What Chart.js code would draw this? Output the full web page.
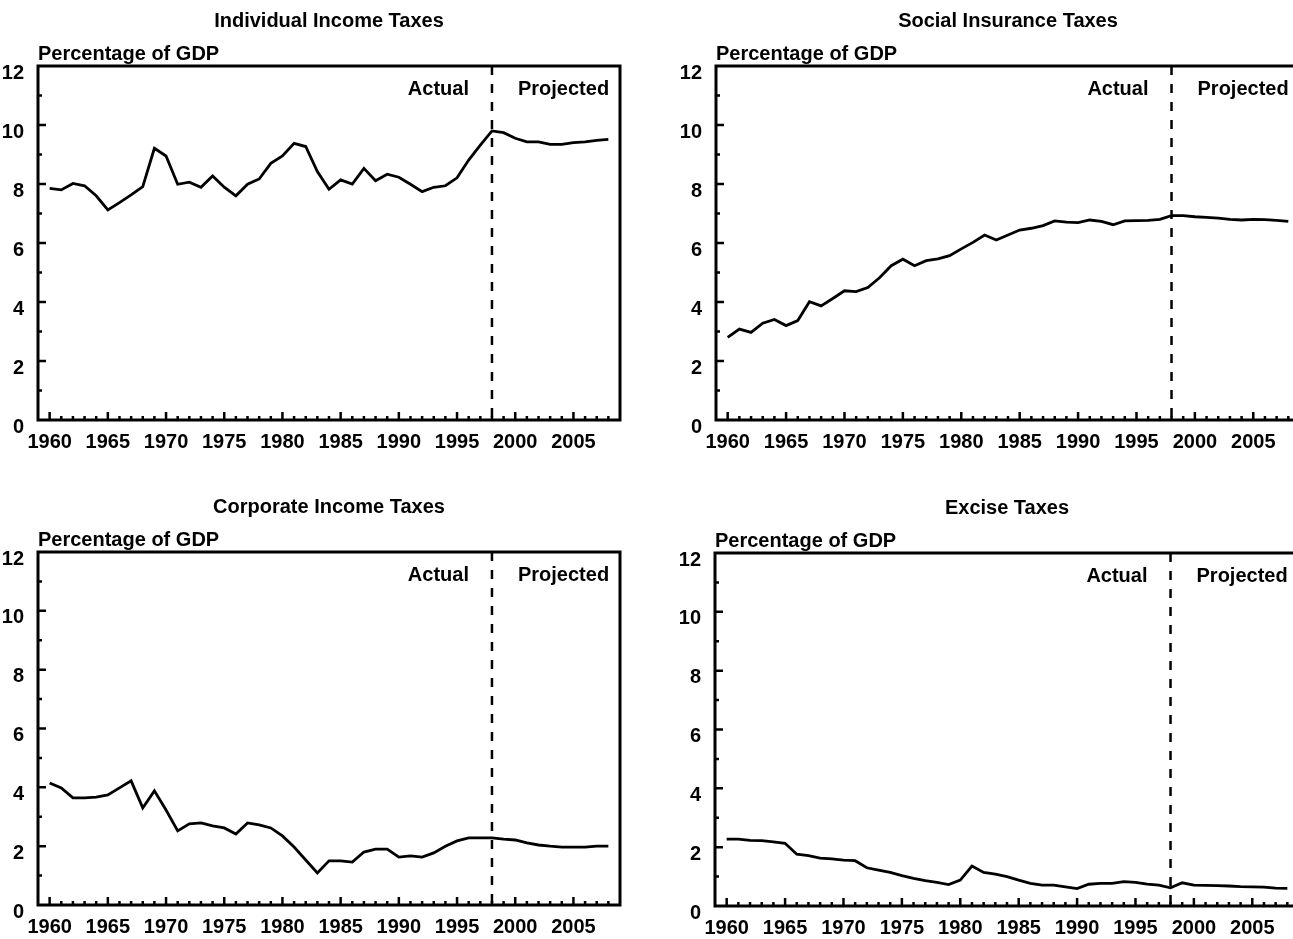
<!DOCTYPE html>
<html>
<head>
<meta charset="utf-8">
<script src="https://cdn.jsdelivr.net/npm/chart.js@4.4.1/dist/chart.umd.min.js"></script>
<style>
  html, body { margin: 0; padding: 0; background: #fff; overflow: hidden; }
  #wrap { position: relative; width: 1293px; height: 939px; overflow: hidden; }
  canvas { position: absolute; }
</style>
</head>
<body>
<div id="wrap">
  <canvas id="c1" width="630" height="460" style="left:0px;top:0px"></canvas>
  <canvas id="c2" width="632" height="460" style="left:678px;top:0px"></canvas>
  <canvas id="c3" width="630" height="459" style="left:0px;top:486px"></canvas>
  <canvas id="c4" width="632" height="459" style="left:677px;top:487px"></canvas>
</div>
<script>
// Data
const years = [1960, 1961, 1962, 1963, 1964, 1965, 1966, 1967, 1968, 1969,
               1970, 1971, 1972, 1973, 1974, 1975, 1976, 1977, 1978, 1979,
               1980, 1981, 1982, 1983, 1984, 1985, 1986, 1987, 1988, 1989,
               1990, 1991, 1992, 1993, 1994, 1995, 1996, 1997, 1998, 1999,
               2000, 2001, 2002, 2003, 2004, 2005, 2006, 2007, 2008];

const individualIncome = [7.85, 7.80, 8.02, 7.94, 7.60, 7.12, 7.37, 7.63, 7.91, 9.21,
                          8.95, 7.99, 8.06, 7.89, 8.27, 7.89, 7.60, 7.99, 8.17, 8.70,
                          8.95, 9.38, 9.27, 8.42, 7.82, 8.14, 8.00, 8.53, 8.11, 8.33,
                          8.23, 7.99, 7.74, 7.89, 7.94, 8.21, 8.81, 9.32, 9.80, 9.74,
                          9.55, 9.43, 9.43, 9.34, 9.34, 9.40, 9.43, 9.48, 9.51];

const socialInsurance = [2.80, 3.08, 2.97, 3.28, 3.41, 3.20, 3.37, 4.01, 3.87, 4.12,
                         4.38, 4.35, 4.49, 4.82, 5.23, 5.45, 5.23, 5.40, 5.46, 5.57,
                         5.80, 6.02, 6.27, 6.10, 6.27, 6.44, 6.50, 6.59, 6.75, 6.71,
                         6.69, 6.78, 6.73, 6.62, 6.75, 6.76, 6.77, 6.80, 6.93, 6.93,
                         6.89, 6.87, 6.84, 6.80, 6.78, 6.80, 6.79, 6.77, 6.73];

const corporateIncome = [4.15, 3.98, 3.64, 3.64, 3.67, 3.74, 3.98, 4.22, 3.30, 3.88,
                         3.23, 2.52, 2.76, 2.79, 2.69, 2.62, 2.41, 2.79, 2.72, 2.62,
                         2.35, 1.97, 1.53, 1.09, 1.50, 1.50, 1.46, 1.80, 1.90, 1.90,
                         1.63, 1.67, 1.63, 1.77, 2.00, 2.18, 2.28, 2.28, 2.28, 2.24,
                         2.21, 2.11, 2.04, 2.00, 1.97, 1.97, 1.97, 2.00, 2.00];

const exciseTaxes = [2.27, 2.27, 2.23, 2.22, 2.18, 2.13, 1.76, 1.71, 1.63, 1.60,
                     1.56, 1.54, 1.30, 1.22, 1.14, 1.03, 0.94, 0.86, 0.80, 0.73,
                     0.88, 1.36, 1.14, 1.08, 1.00, 0.88, 0.77, 0.71, 0.71, 0.65,
                     0.59, 0.74, 0.77, 0.77, 0.83, 0.80, 0.74, 0.71, 0.62, 0.79,
                     0.71, 0.70, 0.69, 0.68, 0.66, 0.65, 0.64, 0.61, 0.60];

const yearTickLabels = [1960, 1965, 1970, 1975, 1980, 1985, 1990, 1995, 2000, 2005];
const splitYear = 1998;

const FONT = '"Liberation Sans", Arial, Helvetica, sans-serif';
Chart.defaults.font.family = FONT;
Chart.defaults.color = '#000';

// titles, frame, inward ticks, Actual/Projected divider
const panelDecor = {
    id: 'panelDecor',
    beforeDatasetsDraw(chart) {
        const { ctx, chartArea: a, scales: { x } } = chart;
        const xs = x.getPixelForValue(splitYear);
        ctx.save();
        ctx.strokeStyle = '#000';
        ctx.lineWidth = 2.5;
        ctx.setLineDash([9, 9]);
        ctx.beginPath();
        ctx.moveTo(xs, a.top);
        ctx.lineTo(xs, a.bottom);
        ctx.stroke();
        ctx.restore();
    },
    afterDraw(chart, args, opts) {
        const { ctx, chartArea: a, scales: { x, y } } = chart;
        ctx.save();
        ctx.strokeStyle = '#000';
        ctx.fillStyle = '#000';

        // frame
        ctx.lineWidth = 3;
        ctx.strokeRect(a.left, a.top, a.right - a.left, a.bottom - a.top);

        // ticks pointing inward
        ctx.lineWidth = 2.5;
        ctx.beginPath();
        years.forEach(yr => {
            const px = x.getPixelForValue(yr);
            const len = yr % 5 === 0 ? 8 : 4;
            ctx.moveTo(px, a.bottom);
            ctx.lineTo(px, a.bottom - len);
        });
        for (let v = 1; v < 12; v++) {
            const py = y.getPixelForValue(v);
            const len = v % 2 === 0 ? 8 : 4;
            ctx.moveTo(a.left, py);
            ctx.lineTo(a.left + len, py);
        }
        ctx.stroke();

        // labels
        const xs = x.getPixelForValue(splitYear);
        ctx.font = 'bold 20px ' + FONT;
        ctx.textBaseline = 'alphabetic';
        ctx.textAlign = 'right';
        ctx.fillText('Actual', xs - 23, a.top + 29);
        ctx.textAlign = 'left';
        ctx.fillText('Projected', xs + 26, a.top + 29);

        ctx.fillText('Percentage of GDP', a.left, a.top - 6);

        ctx.textAlign = 'center';
        ctx.fillText(opts.title, (a.left + a.right) / 2, a.top - 39);
        ctx.restore();
    }
};

function makePanel(canvasId, title, values) {
    const ctx = document.getElementById(canvasId).getContext('2d');
    return new Chart(ctx, {
        type: 'line',
        data: {
            datasets: [{
                data: years.map((yr, i) => ({ x: yr, y: values[i] })),
                borderColor: '#000',
                borderWidth: 2.8,
                pointRadius: 0,
                tension: 0,
                fill: false
            }]
        },
        options: {
            responsive: false,
            animation: false,
            events: [],
            layout: { padding: { top: 66, right: 10, left: 0, bottom: 0 } },
            plugins: {
                legend: { display: false },
                tooltip: { enabled: false },
                title: { display: false },
                panelDecor: { title: title }
            },
            scales: {
                x: {
                    type: 'linear',
                    min: 1959,
                    max: 2009,
                    grid: { display: false },
                    border: { display: false },
                    afterBuildTicks: s => { s.ticks = yearTickLabels.map(v => ({ value: v })); },
                    afterFit: s => { s.height = 40; },
                    ticks: {
                        font: { size: 20, weight: 'bold' },
                        color: '#000',
                        padding: 2,
                        maxRotation: 0,
                        autoSkip: false,
                        callback: v => String(v)
                    }
                },
                y: {
                    min: 0,
                    max: 12,
                    grid: { display: false },
                    border: { display: false },
                    afterFit: s => { s.width = 38; },
                    ticks: {
                        stepSize: 2,
                        font: { size: 20, weight: 'bold' },
                        color: '#000',
                        padding: 6,
                        labelOffset: 7
                    }
                }
            }
        },
        plugins: [panelDecor]
    });
}

makePanel('c1', 'Individual Income Taxes', individualIncome);
makePanel('c2', 'Social Insurance Taxes', socialInsurance);
makePanel('c3', 'Corporate Income Taxes', corporateIncome);
makePanel('c4', 'Excise Taxes', exciseTaxes);
</script>
</body>
</html>
